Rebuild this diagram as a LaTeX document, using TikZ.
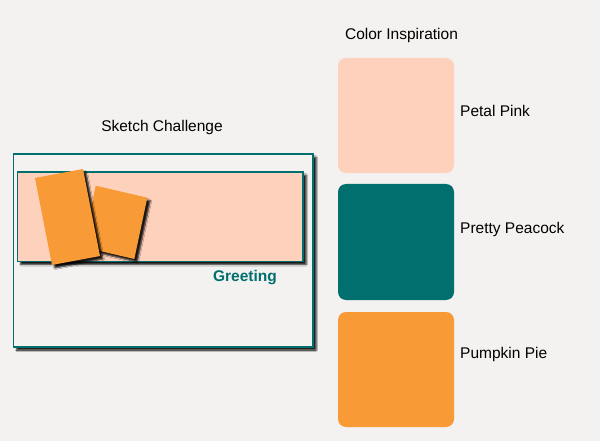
\documentclass[tikz,border=0pt]{standalone}
\usepackage{fontspec}
\setmainfont{Liberation Sans}
\usetikzlibrary{shadows.blur}

\definecolor{pagebg}{HTML}{F3F2F0}
\definecolor{petalpink}{HTML}{FED1BC}
\definecolor{prettypeacock}{HTML}{006F6E}
\definecolor{pumpkinpie}{HTML}{F89A36}

\tikzset{
  txt/.style={inner sep=0pt,font=\fontsize{15.5}{18}\selectfont},
  swatch/.style={rounded corners=8pt},
  dropshade/.style={blur shadow={shadow xshift=3pt,shadow yshift=-3pt,
    shadow blur radius=1.5pt,shadow opacity=90}},
}

\begin{document}
\begin{tikzpicture}[x=1pt,y=-1pt]
\fill[pagebg] (0,0) rectangle (600,441);
\useasboundingbox (0,0) rectangle (600,441);
% sketch
\node[txt] (sketchtitle) at (162,127) {Sketch Challenge};
\filldraw[fill=pagebg,draw=prettypeacock,line width=1.5pt,dropshade] (13.7,154) rectangle (313,347);
\filldraw[fill=petalpink,draw=prettypeacock,line width=1.6pt,dropshade] (17.6,172) rectangle (303,261.5);
\fill[pumpkinpie,dropshade] (95.7,185.7)--(147.3,197.7)--(134.3,259)--(82.7,247)--cycle;
\fill[pumpkinpie,dropshade] (35,178)--(83,169)--(100,256)--(52,265)--cycle;
\node[txt,font=\fontsize{15.5}{18}\selectfont\bfseries,text=prettypeacock] (greeting) at (245,278) {Greeting};
% colours
\node[txt] (colortitle) at (401.5,35) {Color Inspiration};
\fill[petalpink,swatch] (338,58) rectangle (454,173);
\fill[prettypeacock,swatch] (338,184) rectangle (454,300);
\fill[pumpkinpie,swatch] (338,312) rectangle (454,427);
\node[txt,anchor=west] (pink) at (460,111) {Petal Pink};
\node[txt,anchor=west] (peacock) at (460,229) {Pretty Peacock};
\node[txt,anchor=west] (pumpkin) at (460,354.5) {Pumpkin Pie};
\end{tikzpicture}
\end{document}
